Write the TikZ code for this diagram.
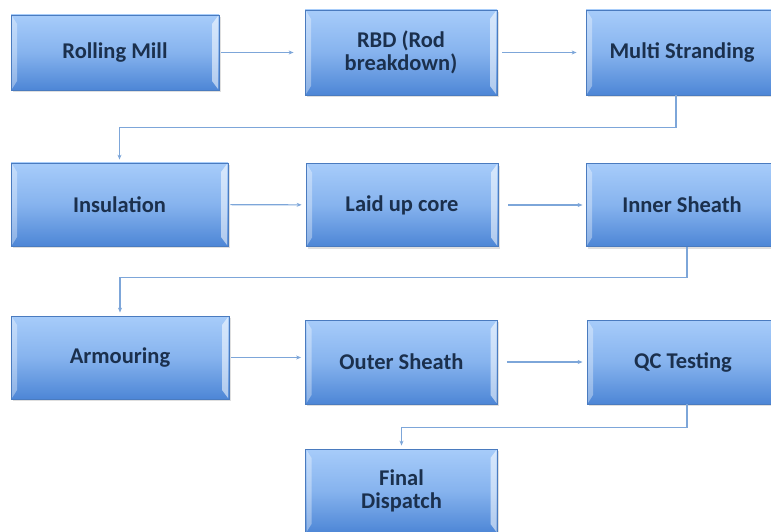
\documentclass[tikz,border=0pt]{standalone}
\usepackage{fontspec}
\setmainfont{Carlito}
\usetikzlibrary{arrows.meta, positioning, shadows}

\definecolor{boxtop}{HTML}{A7CCFA}
\definecolor{boxmid}{HTML}{86B3EE}
\definecolor{boxbot}{HTML}{4D86D6}
\definecolor{boxline}{HTML}{4A7BBF}
\definecolor{boxtext}{HTML}{1B304D}
\definecolor{linkblue}{HTML}{7DA6D9}

\tikzset{
  stage/.style={rectangle, draw=boxline, line width=0.8pt,
    top color=boxtop, bottom color=boxbot, middle color=boxmid,
    text=boxtext, font=\bfseries\fontsize{22.5}{23}\selectfont, align=center,
    drop shadow={opacity=0.25, shadow xshift=1.5pt, shadow yshift=-2pt},
    path picture={
      \fill[white, opacity=0.35]
        ([shift={(1pt,-1pt)}]path picture bounding box.north west)
        -- ([shift={(6pt,-9pt)}]path picture bounding box.north west)
        -- ([shift={(6pt,9pt)}]path picture bounding box.south west)
        -- ([shift={(1pt,1pt)}]path picture bounding box.south west) -- cycle;
      \fill[white, opacity=0.55]
        ([shift={(-1pt,-1pt)}]path picture bounding box.north east)
        -- ([shift={(-7pt,-9pt)}]path picture bounding box.north east)
        -- ([shift={(-7pt,9pt)}]path picture bounding box.south east)
        -- ([shift={(-1pt,1pt)}]path picture bounding box.south east) -- cycle;
    }},
  link/.style={draw=linkblue, line width=1.1pt, -{Stealth[length=5pt, width=4pt]},
    shorten >=3pt},
}

\begin{document}
\begin{tikzpicture}[x=1pt, y=-1pt]
  \useasboundingbox (0,0) rectangle (771,532);

  % first row
  \node[stage, minimum width=208pt, minimum height=75pt] (rolling) at (115,52.5) {Rolling Mill};
  \node[stage, minimum width=192pt, minimum height=85pt] (rbd) at (401,52.5) {RBD (Rod\\breakdown)};
  \node[stage, minimum width=192pt, minimum height=85pt] (multi) at (682,52.5) {Multi Stranding};

  % second row
  \node[stage, minimum width=217pt, minimum height=83pt] (insul) at (119.5,204.5) {Insulation};
  \node[stage, minimum width=192pt, minimum height=83pt] (laid) at (402,205) {Laid up core};
  \node[stage, minimum width=192pt, minimum height=83pt] (inner) at (682,205) {Inner Sheath};

  % third row
  \node[stage, minimum width=218pt, minimum height=83pt] (armour) at (120,357.5) {Armouring};
  \node[stage, minimum width=192pt, minimum height=84pt] (outer) at (401.5,362) {Outer Sheath};
  \node[stage, minimum width=192pt, minimum height=84pt] (qc) at (683,362) {QC Testing};

  \node[stage, minimum width=192pt, minimum height=84pt] (final) at (401.5,491) {Final\\Dispatch};

  % links
  \draw[link, shorten <=2pt, shorten >=11pt] (rolling) -- (rbd);
  \draw[link, shorten <=5pt, shorten >=9pt] (rbd) -- (multi);
  \draw[link, shorten <=2pt, shorten >=4pt] (insul) -- (laid);
  \draw[link, shorten <=10pt, shorten >=3pt] (laid) -- (inner);
  \draw[link, shorten <=2pt, shorten >=4pt] (armour.east) -- (armour.east -| outer.west);
  \draw[link, shorten <=9pt, shorten >=4pt] (outer.east) -- (outer.east -| qc.west);

  \draw[link] ([xshift=-6pt]multi.south) -- ++(0,32) -| (insul.north);
  \draw[link] ([xshift=5pt]inner.south) -- ++(0,31) -| (armour.north);
  \draw[link] ([xshift=4pt]qc.south) -- ++(0,23) -| (final.north);
\end{tikzpicture}
\end{document}
